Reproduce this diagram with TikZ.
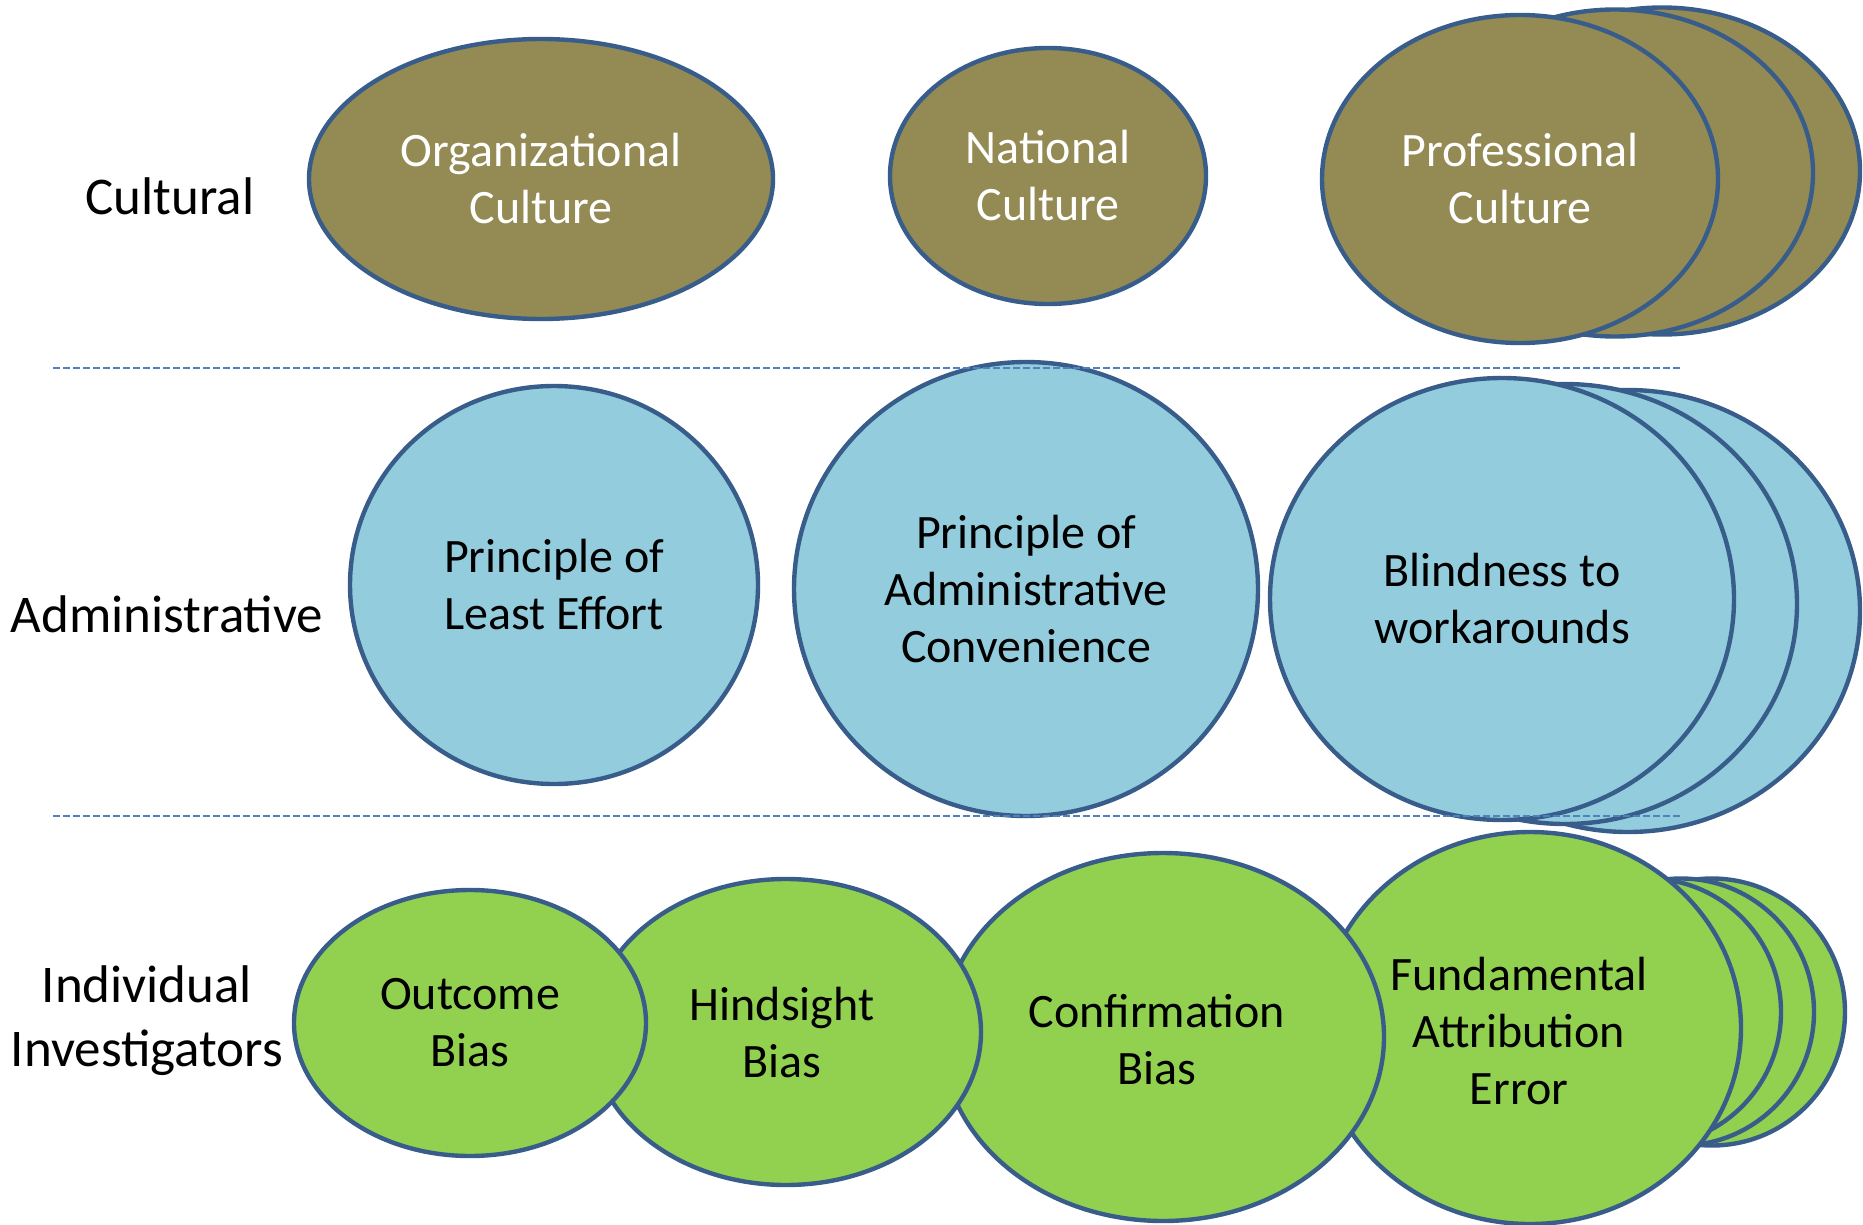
\documentclass[tikz,border=0pt]{standalone}
\usepackage{fontspec}
\setmainfont{Carlito}
\usetikzlibrary{shapes.geometric}
\definecolor{olivefill}{HTML}{948A54}
\definecolor{aquafill}{HTML}{93CDDD}
\definecolor{greenfill}{HTML}{92D050}
\definecolor{rim}{HTML}{385D8A}
\definecolor{sep}{HTML}{4F81BD}
\begin{document}
\begin{tikzpicture}[x=0.5pt,y=-0.5pt,
  bubble/.style={ellipse, draw=rim, line width=2.2pt, inner sep=0pt},
  culture/.style={bubble, fill=olivefill},
  adminbubble/.style={bubble, fill=aquafill},
  indiv/.style={bubble, fill=greenfill},
  size/.style 2 args={minimum width=#1, minimum height=#2},
  caption/.style={align=center, inner sep=0pt, font=\fontsize{24}{28.5}\selectfont},
  whitecaption/.style={caption, text=white},
  rowlabel/.style={font=\fontsize{26.5}{32}\selectfont, align=center, anchor=base},
  divider/.style={draw=sep, line width=1pt, dash pattern=on 3.5pt off 1.5pt}]
\useasboundingbox (0,0) rectangle (1863,1225);

% ---- Cultural row ----
\node[rowlabel] (lcult) at (170,215) {Cultural};
\node[culture, size={464pt/2}{280pt/2}] (org) at (541,179) {};
\node[whitecaption] (orgtext) at (org.center) {Organizational\\Culture};
\node[culture, size={316pt/2}{256pt/2}] (nat) at (1048,176) {};
\node[whitecaption] (nattext) at (nat.center) {National\\Culture};
\node[culture, size={396pt/2}{327pt/2}] (prof3) at (1662,171) {};
\node[culture, size={396pt/2}{327pt/2}] (prof2) at (1615,173) {};
\node[culture, size={396pt/2}{328pt/2}] (prof1) at (1520,179) {};
\node[whitecaption] (proftext) at (prof1.center) {Professional\\Culture};

% ---- Administrative row ----
\node[rowlabel] (ladmin) at (167,632) {Administrative};
\node[adminbubble, size={408pt/2}{398pt/2}] (least) at (554,585) {};
\node[caption] (leasttext) at (least.center) {Principle of\\Least Effort};
\node[adminbubble, size={464pt/2}{454pt/2}] (conv) at (1026,589) {};
\node[caption] (convtext) at (conv.center) {Principle of\\Administrative\\Convenience};
\node[adminbubble, size={464pt/2}{442pt/2}] (blind3) at (1628,611) {};
\node[adminbubble, size={464pt/2}{440pt/2}] (blind2) at (1565,604) {};
\node[adminbubble, size={464pt/2}{442pt/2}] (blind1) at (1502,599) {};
\node[caption] (blindtext) at (blind1.center) {Blindness to\\workarounds};

% ---- Individual investigators row (drawn back to front) ----
\node[rowlabel] (lindiv) at (147,1066) {Individual\\Investigators};
\node[indiv, size={266pt/2}{267pt/2}] (fae4) at (1712,1012) {};
\node[indiv, size={266pt/2}{267pt/2}] (fae3) at (1681,1012) {};
\node[indiv, size={266pt/2}{267pt/2}] (fae2) at (1648,1012) {};
\node[indiv, size={422pt/2}{392pt/2}] (fae1) at (1530,1028) {};
\node[caption] (faetext) at (1519,1031) {Fundamental\\Attribution\\Error};
\node[indiv, size={442pt/2}{368pt/2}] (conf) at (1163,1037) {};
\node[caption] (conftext) at (1157,1040) {Confirmation\\Bias};
\node[indiv, size={390pt/2}{306pt/2}] (hind) at (786,1032) {};
\node[caption] (hindtext) at (782,1033) {Hindsight\\Bias};
\node[indiv, size={352pt/2}{266pt/2}] (outc) at (470,1023) {};
\node[caption] (outctext) at (outc.center) {Outcome\\Bias};

% ---- dashed separators ----
\coordinate (d1a) at (53,368);
\coordinate (d1b) at (1682,368);
\coordinate (d2a) at (53,816);
\coordinate (d2b) at (1682,816);
\draw[divider] (d1a) -- (d1b);
\draw[divider] (d2a) -- (d2b);
\end{tikzpicture}
\end{document}
